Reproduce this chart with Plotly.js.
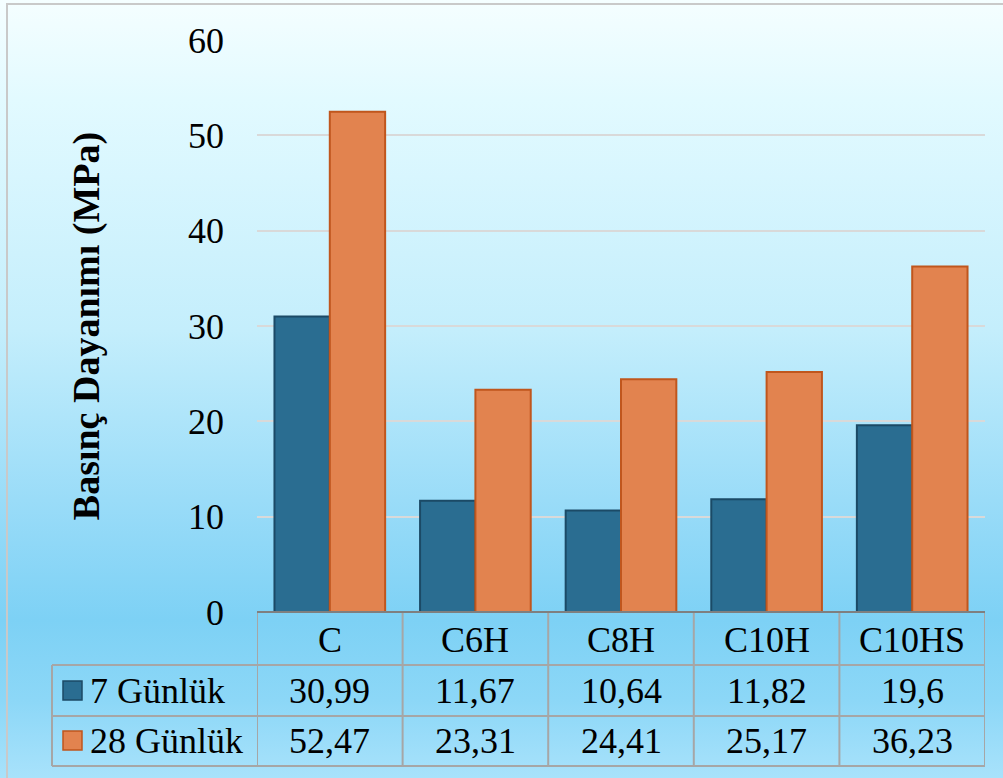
<!DOCTYPE html>
<html>
<head>
<meta charset="utf-8">
<script src="https://cdn.plot.ly/plotly-3.0.1.min.js"></script>
<style>
  html, body { margin: 0; padding: 0; }
  #wrap { position: relative; width: 1003px; height: 778px; overflow: hidden;
    background: linear-gradient(to bottom, #f5feff 0px, #e2faff 100px, #c4eefc 330px, #9adcf8 500px, #7dd1f5 620px, #8cd7f7 700px, #a8e2fb 778px); }
  #frame { position: absolute; left: 6px; top: 3px; width: 1100px; height: 900px;
    border-left: 2px solid #c9c9c9; border-top: 2px solid #c9c9c9; box-sizing: border-box; pointer-events: none; }
  #chart { position: absolute; left: 0; top: 0; width: 1003px; height: 778px; }
</style>
</head>
<body>
<div id="wrap">
  <div id="chart"></div>
  <div id="frame"></div>
</div>
<script>
const categories = ['C', 'C6H', 'C8H', 'C10H', 'C10HS'];
const seriesNames = ['7 Günlük', '28 Günlük'];
const day7 = [30.99, 11.67, 10.64, 11.82, 19.6];
const day28 = [52.47, 23.31, 24.41, 25.17, 36.23];
const yTicks = [0, 10, 20, 30, 40, 50, 60];
const yTitle = 'Basınç Dayanımı (MPa)';

const FONT = 'Liberation Serif';
const fillColors = ['#2a6d91', '#e2834f'];
const lineColors = ['#1b4a66', '#c0561d'];
const seriesData = [day7, day28];

const fmt = v => String(v).replace('.', ',');

const traces = seriesData.map((vals, i) => ({
  type: 'bar',
  name: seriesNames[i],
  x: categories.map((c, j) => j),
  y: vals,
  marker: { color: fillColors[i], line: { color: lineColors[i], width: 2 } },
  hoverinfo: 'skip'
}));

const plotTop = 40, plotBottom = 612, plotLeft = 257, plotRight = 985;
const ph = plotBottom - plotTop, pw = plotRight - plotLeft;
const py = p => (plotBottom - p) / ph;
const px = p => (p - plotLeft) / pw;
const rowLines = [665, 716, 766];
const headerMid = 640, rowMids = [691, 741];
const tableLeft = 52;

const shapes = [];
const gridColor = '#a6a6a6';
for (let k = 0; k <= categories.length; k++) {
  shapes.push({ type: 'line', xref: 'x', yref: 'paper', x0: k - 0.5, x1: k - 0.5,
    y0: py(plotBottom), y1: py(rowLines[2]), line: { color: gridColor, width: 2 } });
}
rowLines.forEach(r => {
  shapes.push({ type: 'line', xref: 'paper', yref: 'paper', x0: px(tableLeft), x1: 1,
    y0: py(r), y1: py(r), line: { color: gridColor, width: 2 } });
});
shapes.push({ type: 'line', xref: 'paper', yref: 'paper', x0: px(tableLeft), x1: px(tableLeft),
  y0: py(rowLines[0]), y1: py(rowLines[2]), line: { color: gridColor, width: 2 } });
rowMids.forEach((m, i) => {
  shapes.push({ type: 'rect', xref: 'paper', yref: 'paper', x0: px(63), x1: px(82),
    y0: py(m + 9), y1: py(m - 10), fillcolor: fillColors[i], line: { color: lineColors[i], width: 1.5 } });
});
shapes.push({ type: 'line', xref: 'paper', yref: 'paper', x0: 0, x1: 1, y0: 0, y1: 0,
  line: { color: '#7f7f7f', width: 2 } });

const annotations = [];
categories.forEach((c, j) => {
  annotations.push({ xref: 'x', yref: 'paper', x: j, y: py(headerMid), text: c, showarrow: false,
    font: { family: FONT, size: 36, color: '#000' }, xanchor: 'center', yanchor: 'middle' });
  seriesData.forEach((vals, i) => {
    annotations.push({ xref: 'x', yref: 'paper', x: j, y: py(rowMids[i]), text: fmt(vals[j]), showarrow: false,
      font: { family: FONT, size: 36, color: '#000' }, xanchor: 'center', yanchor: 'middle' });
  });
});
seriesNames.forEach((n, i) => {
  annotations.push({ xref: 'paper', yref: 'paper', x: px(88), y: py(rowMids[i]), text: n, showarrow: false,
    font: { family: FONT, size: 36, color: '#000' }, xanchor: 'left', yanchor: 'middle' });
});

const layout = {
  width: 1003, height: 778,
  margin: { l: plotLeft, r: 1003 - plotRight, t: plotTop, b: 778 - plotBottom, pad: 0 },
  paper_bgcolor: 'rgba(0,0,0,0)',
  plot_bgcolor: 'rgba(0,0,0,0)',
  showlegend: false,
  barmode: 'group',
  bargap: 0.24,
  bargroupgap: 0,
  font: { family: FONT },
  xaxis: { range: [-0.5, categories.length - 0.5], showticklabels: false, showgrid: false,
    zeroline: false, showline: false, ticks: '', fixedrange: true },
  yaxis: {
    range: [0, 60], tickvals: yTicks, ticktext: yTicks.map(String),
    showgrid: true, gridcolor: '#d9d9d9', gridwidth: 2, zeroline: false, showline: false,
    ticks: '', ticklabelstandoff: 32,
    tickfont: { family: FONT, size: 36, color: '#000' },
    title: { text: '<b>' + yTitle + '</b>', font: { family: FONT, size: 38, color: '#000' }, standoff: 76 }
  },
  shapes: shapes,
  annotations: annotations
};

Plotly.newPlot('chart', traces, layout, { displayModeBar: false, staticPlot: true });
</script>
</body>
</html>
